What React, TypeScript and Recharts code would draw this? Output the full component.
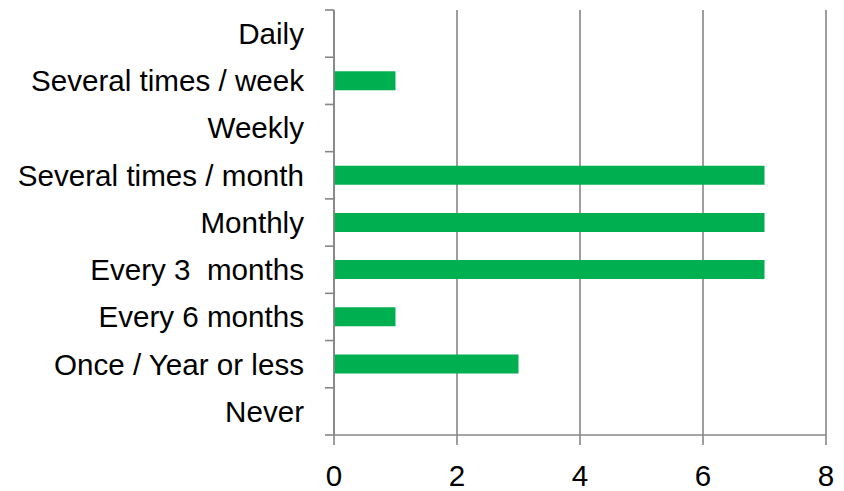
import React from "react";
import { Bar, BarChart, CartesianGrid, XAxis, YAxis } from "recharts";

const categories = [
  "Daily",
  "Several times / week",
  "Weekly",
  "Several times / month",
  "Monthly",
  "Every 3  months",
  "Every 6 months",
  "Once / Year or less",
  "Never",
];
const counts = [0, 1, 0, 7, 7, 7, 1, 3, 0];
const xTicks = [0, 2, 4, 6, 8];

const data = categories.map((name, i) => ({ name, value: counts[i] }));

const WIDTH = 844;
const HEIGHT = 491;
const TOP = 10;
const BOTTOM = 56;
const AXIS_W = 334;
const FONT = "'Liberation Sans', Arial, sans-serif";
const GREY = "#868686";
const band = (HEIGHT - TOP - BOTTOM) / categories.length;

function CategoryTick(props) {
  const { x, y, payload, index } = props;
  const axisX = AXIS_W;
  return (
    <g>
      <line x1={axisX - 9} x2={axisX} y1={y - band / 2} y2={y - band / 2} stroke={GREY} strokeWidth={1.6} />
      {index === categories.length - 1 && (
        <line x1={axisX - 9} x2={axisX} y1={y + band / 2} y2={y + band / 2} stroke={GREY} strokeWidth={1.6} />
      )}
      <text
        x={x}
        y={y}
        dy="0.35em"
        textAnchor="end"
        fontFamily={FONT}
        fontSize={29.6}
        fill="#000"
        style={{ whiteSpace: "pre" }}
      >
        {payload.value}
      </text>
    </g>
  );
}

function ValueTick(props) {
  const { x, y, payload } = props;
  return (
    <text x={x} y={y} dy="0.35em" textAnchor="middle" fontFamily={FONT} fontSize={29.6} fill="#000">
      {payload.value}
    </text>
  );
}

export default function App() {
  return (
    <div style={{ position: "absolute", left: 0, top: 0, background: "#fff" }}>
      <BarChart
        width={WIDTH}
        height={HEIGHT}
        data={data}
        layout="vertical"
        margin={{ top: TOP, right: 18, bottom: 0, left: 0 }}
      >
        <CartesianGrid horizontal={false} stroke={GREY} strokeWidth={1.6} />
        <XAxis
          type="number"
          domain={[0, 8]}
          ticks={xTicks}
          height={BOTTOM}
          axisLine={{ stroke: GREY, strokeWidth: 1.6 }}
          tickLine={{ stroke: GREY, strokeWidth: 1.6 }}
          tickSize={10}
          tickMargin={31}
          tick={<ValueTick />}
        />
        <YAxis
          type="category"
          dataKey="name"
          width={AXIS_W}
          axisLine={{ stroke: GREY, strokeWidth: 1.6 }}
          tickLine={false}
          tickSize={0}
          tickMargin={30}
          interval={0}
          tick={<CategoryTick />}
        />
        <Bar dataKey="value" fill="#00B050" barSize={19} isAnimationActive={false} />
      </BarChart>
    </div>
  );
}
